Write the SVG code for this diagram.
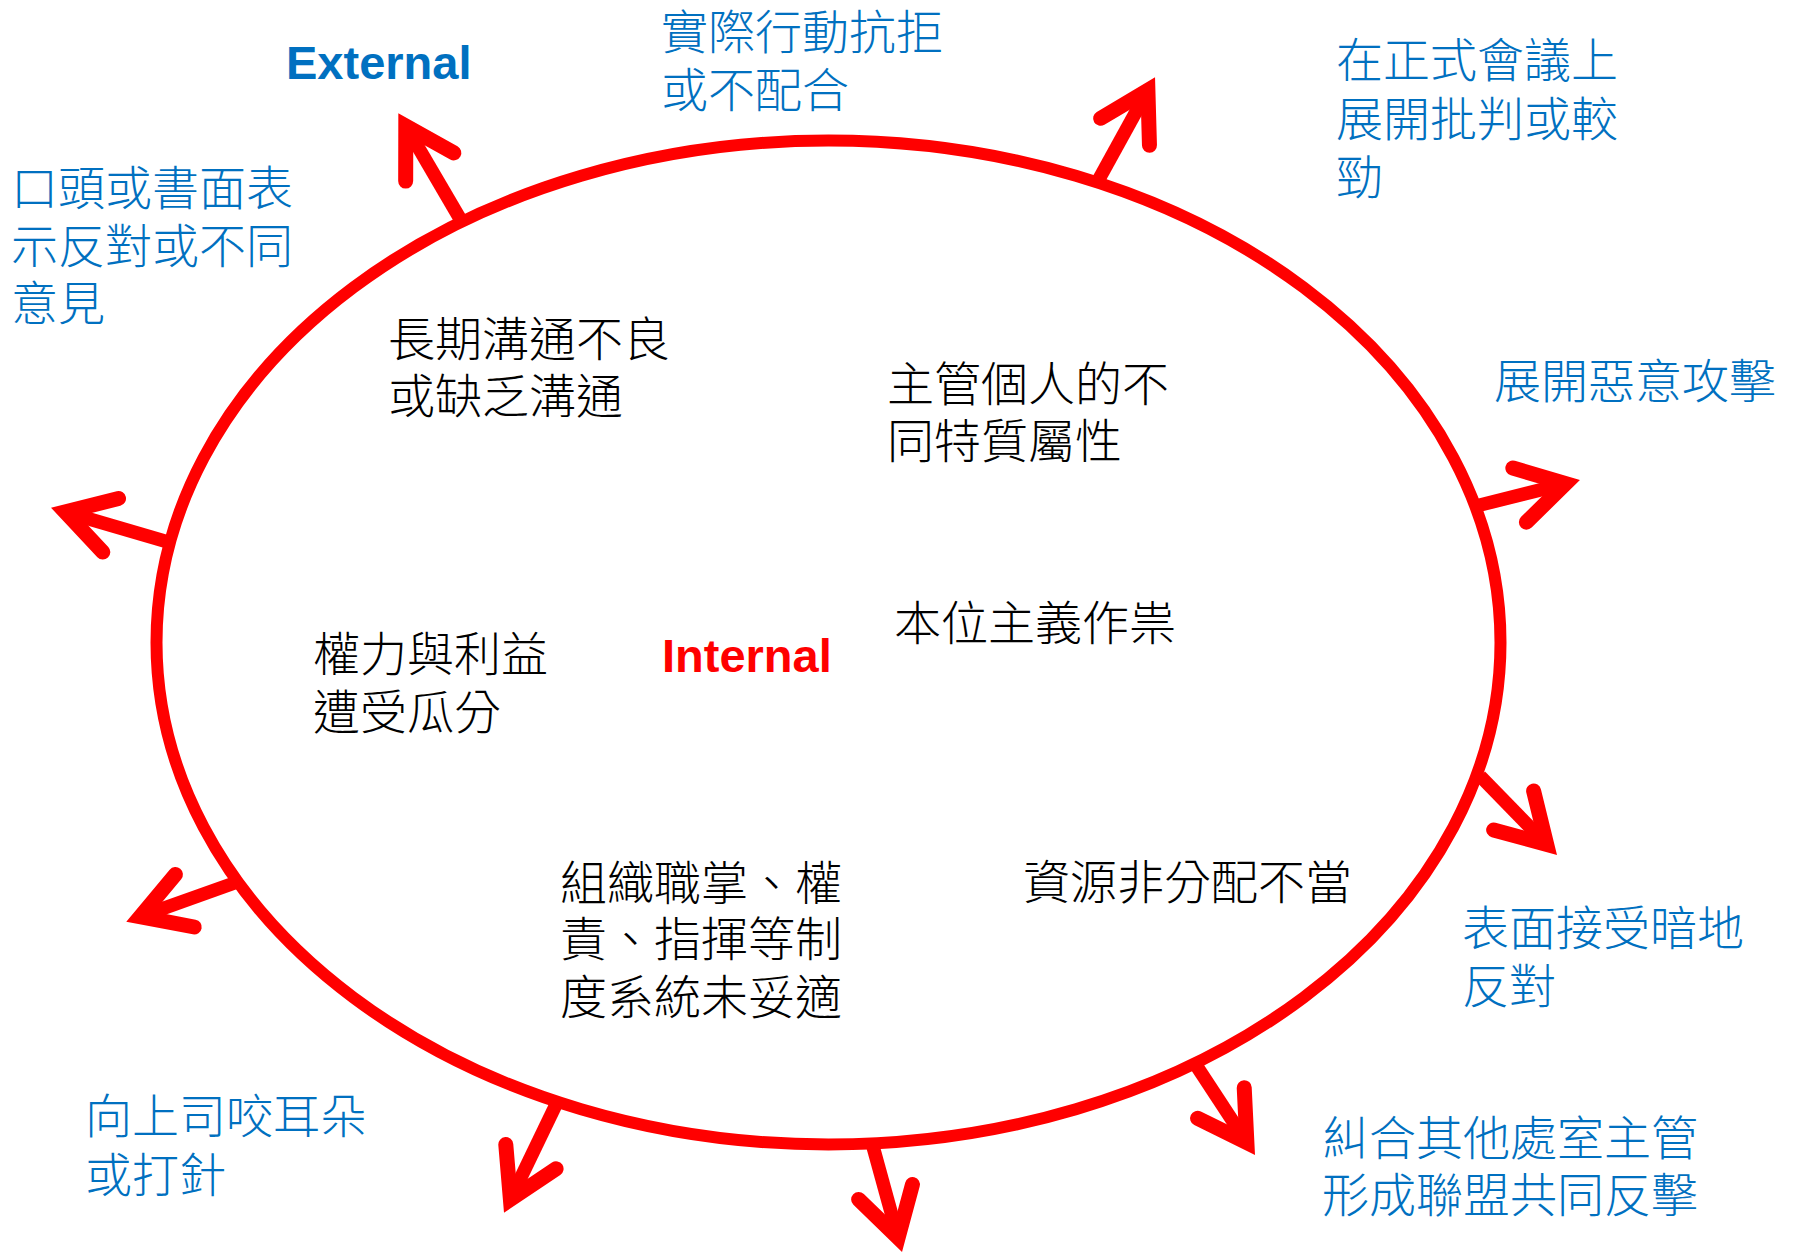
<svg xmlns="http://www.w3.org/2000/svg" width="1800" height="1253" viewBox="0 0 1800 1253">
<style>
.cjk{font-family:"Noto Sans CJK TC","Noto Sans CJK SC",sans-serif;font-size:47px;font-weight:300}
.blue{fill:#0070C0}
.black{fill:#000000}
.lbl{font-family:"Liberation Sans",Arial,sans-serif;font-size:47px;font-weight:bold}
.shaft{stroke:#FF0000;stroke-width:13.5;fill:none;marker-end:url(#ah)}
</style>
<defs>
<marker id="ah" markerUnits="userSpaceOnUse" orient="auto" markerWidth="200" markerHeight="200" refX="0" refY="0" overflow="visible">
<path d="M-47.4,-27.9 L0,0 L-47.4,27.9" fill="none" stroke="#FF0000" stroke-width="15" stroke-linecap="round" stroke-linejoin="miter" stroke-miterlimit="10"/>
</marker>
</defs>
<rect width="1800" height="1253" fill="#FFFFFF"/>
<g id="connectors">
<line class="shaft" x1="464" y1="225.5" x2="405.8" y2="126.1"/>
<line class="shaft" x1="1097.1" y1="182.5" x2="1147.9" y2="90.3"/>
<line class="shaft" x1="1476.1" y1="506" x2="1565.6" y2="483.6"/>
<line class="shaft" x1="170.5" y1="542.8" x2="65.2" y2="511.9"/>
<line class="shaft" x1="237.2" y1="882" x2="140.2" y2="916.7"/>
<line class="shaft" x1="1480.2" y1="776.1" x2="1546.7" y2="844.4"/>
<line class="shaft" x1="556.7" y1="1103.1" x2="510.4" y2="1199.4"/>
<line class="shaft" x1="872.9" y1="1146.1" x2="898.1" y2="1237.7"/>
<line class="shaft" x1="1193.8" y1="1061.7" x2="1246.9" y2="1142.6"/>
</g>
<g id="ellipse">
<ellipse cx="828.5" cy="642.5" rx="672" ry="502" fill="none" stroke="#FF0000" stroke-width="12"/>
</g>
<g id="label-external"><text class="lbl blue" x="286" y="79">External</text></g>
<g id="label-internal"><text class="lbl" fill="#FF0000" x="662" y="672">Internal</text></g>
<g id="ext-verbal"><text class="cjk blue"><tspan x="11" y="205">口頭或書面表</tspan><tspan x="11" y="263">示反對或不同</tspan><tspan x="11" y="320">意見</tspan></text></g>
<g id="ext-action"><text class="cjk blue"><tspan x="661" y="49">實際行動抗拒</tspan><tspan x="661" y="107">或不配合</tspan></text></g>
<g id="ext-meeting"><text class="cjk blue"><tspan x="1336" y="77">在正式會議上</tspan><tspan x="1336" y="136">展開批判或較</tspan><tspan x="1336" y="194">勁</tspan></text></g>
<g id="ext-attack"><text class="cjk blue" x="1494" y="398">展開惡意攻擊</text></g>
<g id="ext-surface"><text class="cjk blue"><tspan x="1462" y="945">表面接受暗地</tspan><tspan x="1462" y="1003">反對</tspan></text></g>
<g id="ext-alliance"><text class="cjk blue"><tspan x="1322" y="1155">糾合其他處室主管</tspan><tspan x="1322" y="1212">形成聯盟共同反擊</tspan></text></g>
<g id="ext-whisper"><text class="cjk blue"><tspan x="85" y="1133">向上司咬耳朵</tspan><tspan x="85" y="1192">或打針</tspan></text></g>
<g id="int-communication"><text class="cjk black"><tspan x="388" y="356">長期溝通不良</tspan><tspan x="388" y="413">或缺乏溝通</tspan></text></g>
<g id="int-personal"><text class="cjk black"><tspan x="887" y="401">主管個人的不</tspan><tspan x="887" y="458">同特質屬性</tspan></text></g>
<g id="int-departmentalism"><text class="cjk black" x="894" y="640">本位主義作祟</text></g>
<g id="int-power"><text class="cjk black"><tspan x="313" y="671">權力與利益</tspan><tspan x="313" y="729">遭受瓜分</tspan></text></g>
<g id="int-system"><text class="cjk black"><tspan x="560" y="900">組織職掌、權</tspan><tspan x="560" y="956">責、指揮等制</tspan><tspan x="560" y="1014">度系統未妥適</tspan></text></g>
<g id="int-resources"><text class="cjk black" x="1023" y="899">資源非分配不當</text></g>
</svg>
